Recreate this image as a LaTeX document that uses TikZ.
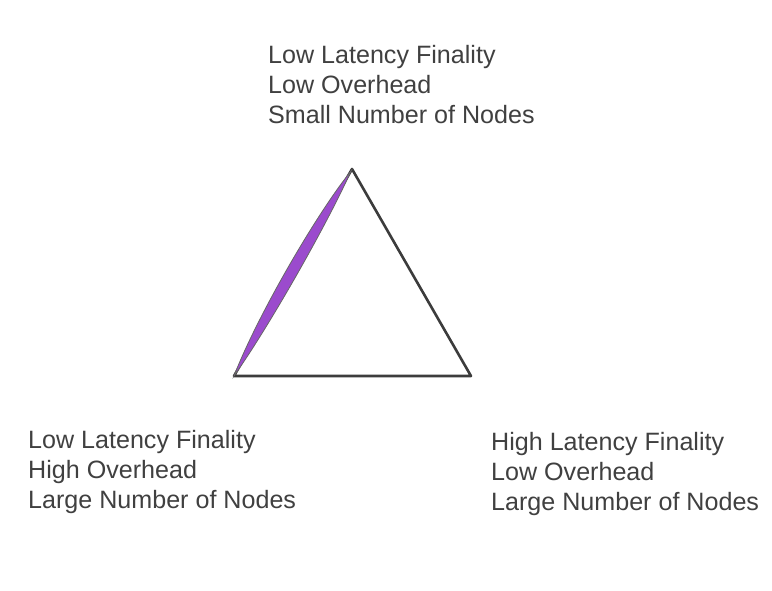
\documentclass[tikz,border=0pt]{standalone}
\usepackage{fontspec}
\setmainfont{Liberation Sans}
\usetikzlibrary{calc}
\definecolor{tgText}{HTML}{404040}
\definecolor{tgLine}{HTML}{3C3C3C}
\definecolor{tgPurple}{HTML}{9B4BCD}

\begin{document}
\begin{tikzpicture}[x=1pt, y=-1pt,
  tradeoff/.style={anchor=base west, inner sep=0pt, align=left, text=tgText, font=\fontsize{25.1}{30}\selectfont},
  triside/.style={draw=tgLine, line width=2.6pt, line join=round},
  lens/.style={fill=tgPurple, draw=gray!80!black, line width=0.8pt}
]
  \useasboundingbox (0,0) rectangle (772,591);
  \coordinate (apex) at (352,169);
  \coordinate (left) at (234,376);
  \coordinate (right) at (471,376);
  \node[tradeoff] (small) at (268,124) {Low Latency Finality\\Low Overhead\\Small Number of Nodes};
  \node[tradeoff] (highov) at (28,508) {Low Latency Finality\\High Overhead\\Large Number of Nodes};
  \node[tradeoff] (lowov) at (491,510.5) {High Latency Finality\\Low Overhead\\Large Number of Nodes};
  \draw[triside] (apex) -- (right) -- (left) -- cycle;
  % highlighted side
  \path[lens] (left) .. controls (255.4,320) and (313.9,217.5) .. (351,171)
    .. controls (326.8,225.1) and (268.3,327.6) .. (left) -- cycle;
\end{tikzpicture}
\end{document}
